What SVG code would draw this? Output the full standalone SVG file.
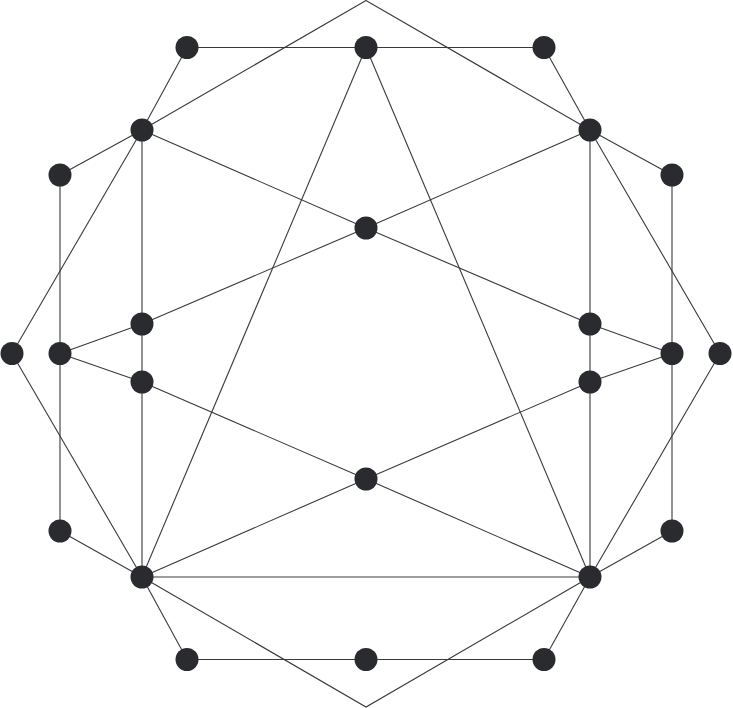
<svg xmlns="http://www.w3.org/2000/svg" width="733" height="708" viewBox="0 0 733 708">
<style>
.e{stroke:#3a3a3a;stroke-width:1.1;fill:none}
.n{fill:#2a2b2f}
</style>
<rect width="733" height="708" fill="#ffffff"/>
<g id="connectors" class="e">
<line x1="187" y1="47.5" x2="366" y2="47.5"/>
<line x1="366" y1="47.5" x2="544" y2="47.5"/>
<line x1="187" y1="47.5" x2="142" y2="130"/>
<line x1="544" y1="47.5" x2="590" y2="130"/>
<polyline points="142,130 366,0.5 590,130"/>
<line x1="366" y1="47.5" x2="142" y2="577"/>
<line x1="366" y1="47.5" x2="590" y2="577"/>
<line x1="142" y1="130" x2="60" y2="175"/>
<line x1="60" y1="175" x2="60" y2="531"/>
<line x1="142" y1="130" x2="12" y2="353.5"/>
<line x1="12" y1="353.5" x2="142" y2="577"/>
<line x1="142" y1="130" x2="142" y2="577"/>
<line x1="142" y1="130" x2="366" y2="228"/>
<line x1="366" y1="228" x2="590" y2="324"/>
<line x1="590" y1="130" x2="366" y2="228"/>
<line x1="366" y1="228" x2="142" y2="324"/>
<line x1="142" y1="324" x2="60" y2="353.5"/>
<line x1="60" y1="353.5" x2="142" y2="382"/>
<line x1="142" y1="382" x2="366" y2="479"/>
<line x1="366" y1="479" x2="590" y2="577"/>
<line x1="142" y1="577" x2="366" y2="479"/>
<line x1="366" y1="479" x2="590" y2="382"/>
<line x1="590" y1="382" x2="672" y2="353.5"/>
<line x1="590" y1="324" x2="672" y2="353.5"/>
<line x1="60" y1="531" x2="142" y2="577"/>
<line x1="142" y1="577" x2="590" y2="577"/>
<line x1="142" y1="577" x2="187" y2="659.5"/>
<line x1="187" y1="659.5" x2="366" y2="659.5"/>
<line x1="366" y1="659.5" x2="544" y2="659.5"/>
<line x1="544" y1="659.5" x2="590" y2="577"/>
<polyline points="142,577 366,707 590,577"/>
<line x1="672" y1="531" x2="590" y2="577"/>
<line x1="672" y1="175" x2="672" y2="531"/>
<line x1="590" y1="130" x2="672" y2="175"/>
<polyline points="590,130 720,353.5 590,577"/>
<line x1="590" y1="130" x2="590" y2="577"/>
</g>
<g id="n1"><circle class="n" cx="187" cy="47.5" r="11.5"/></g>
<g id="n2"><circle class="n" cx="366" cy="47.5" r="11.5"/></g>
<g id="n3"><circle class="n" cx="544" cy="47.5" r="11.5"/></g>
<g id="n4"><circle class="n" cx="142" cy="130" r="11.5"/></g>
<g id="n5"><circle class="n" cx="590" cy="130" r="11.5"/></g>
<g id="n6"><circle class="n" cx="60" cy="175" r="11.5"/></g>
<g id="n7"><circle class="n" cx="672" cy="175" r="11.5"/></g>
<g id="n8"><circle class="n" cx="366" cy="228" r="11.5"/></g>
<g id="n9"><circle class="n" cx="142" cy="324" r="11.5"/></g>
<g id="n10"><circle class="n" cx="590" cy="324" r="11.5"/></g>
<g id="n11"><circle class="n" cx="12" cy="353.5" r="11.5"/></g>
<g id="n12"><circle class="n" cx="60" cy="353.5" r="11.5"/></g>
<g id="n13"><circle class="n" cx="672" cy="353.5" r="11.5"/></g>
<g id="n14"><circle class="n" cx="720" cy="353.5" r="11.5"/></g>
<g id="n15"><circle class="n" cx="142" cy="382" r="11.5"/></g>
<g id="n16"><circle class="n" cx="590" cy="382" r="11.5"/></g>
<g id="n17"><circle class="n" cx="366" cy="479" r="11.5"/></g>
<g id="n18"><circle class="n" cx="60" cy="531" r="11.5"/></g>
<g id="n19"><circle class="n" cx="672" cy="531" r="11.5"/></g>
<g id="n20"><circle class="n" cx="142" cy="577" r="11.5"/></g>
<g id="n21"><circle class="n" cx="590" cy="577" r="11.5"/></g>
<g id="n22"><circle class="n" cx="187" cy="659.5" r="11.5"/></g>
<g id="n23"><circle class="n" cx="366" cy="659.5" r="11.5"/></g>
<g id="n24"><circle class="n" cx="544" cy="659.5" r="11.5"/></g>
</svg>
